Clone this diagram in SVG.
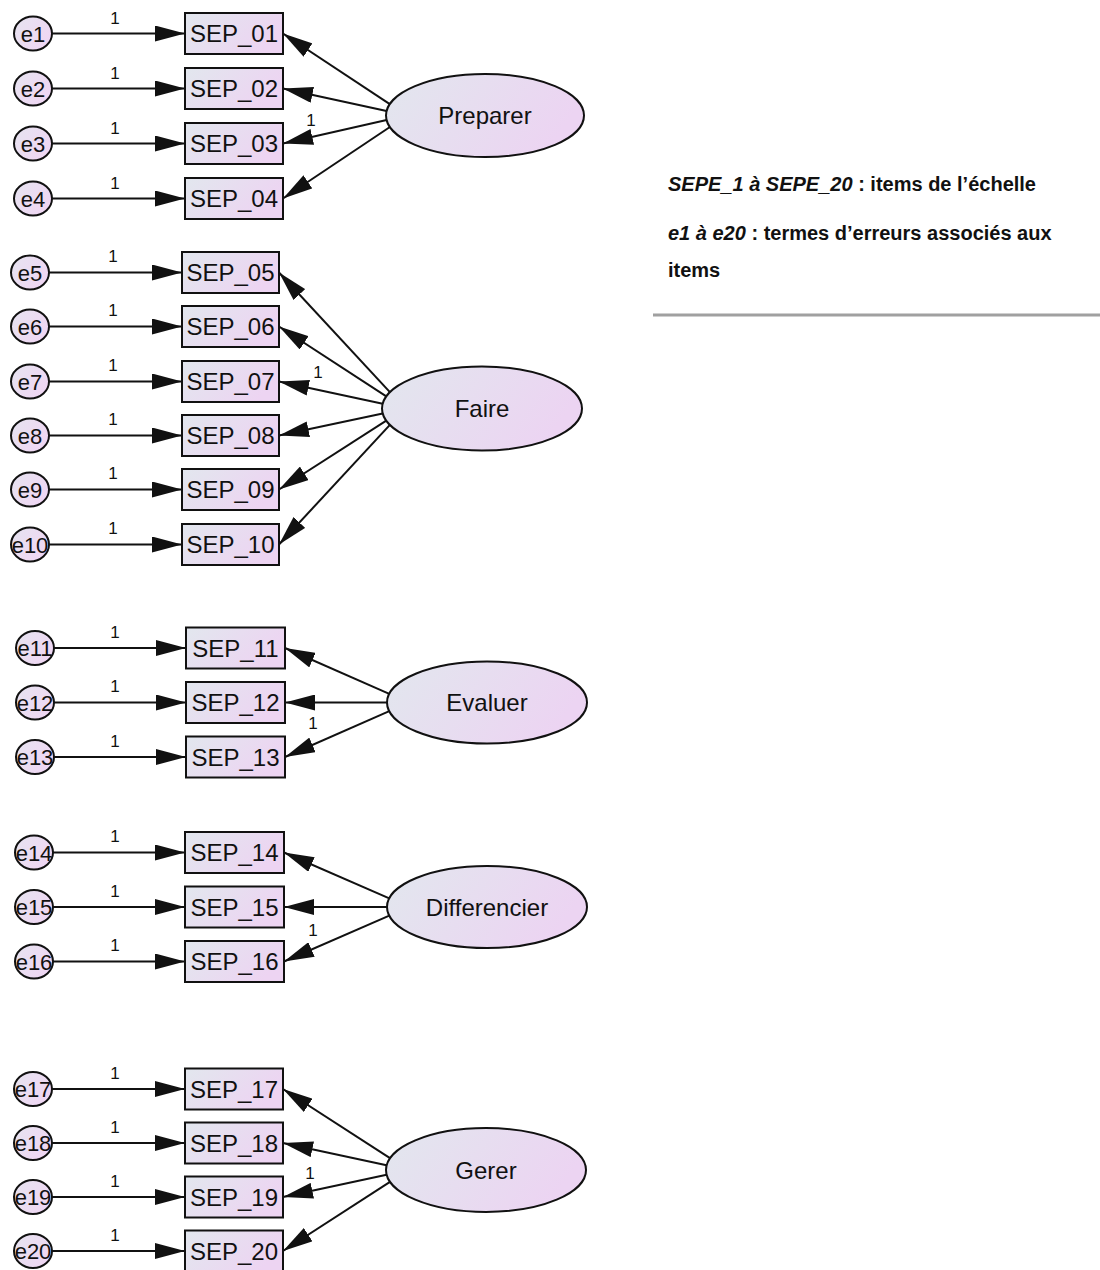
<svg xmlns="http://www.w3.org/2000/svg" width="1100" height="1270" viewBox="0 0 1100 1270">
<style>
.box{fill:url(#gbox);stroke:#111;stroke-width:2}
.err{fill:url(#gerr);stroke:#111;stroke-width:2}
.lat{fill:url(#glat);stroke:#111;stroke-width:2}
.t{font-family:"Liberation Sans",Arial,sans-serif;font-size:24px;fill:#111;text-anchor:middle}
.te{font-family:"Liberation Sans",Arial,sans-serif;font-size:22px;fill:#111;text-anchor:middle}
.one{font-family:"Liberation Sans",Arial,sans-serif;font-size:17px;fill:#111;text-anchor:middle}
.c line{stroke:#111;stroke-width:2;marker-end:url(#ah)}
.leg{font-family:"Liberation Sans",Arial,sans-serif;font-size:20px;font-weight:bold;fill:#111}
</style>
<defs>
<linearGradient id="gbox" x1="0" y1="0" x2="1" y2="0.4"><stop offset="0" stop-color="#e2e7ee"/><stop offset="1" stop-color="#edd4f2"/></linearGradient>
<linearGradient id="gerr" x1="0" y1="0" x2="1" y2="0.6"><stop offset="0" stop-color="#e6e4f0"/><stop offset="1" stop-color="#efd6f3"/></linearGradient>
<linearGradient id="glat" x1="0" y1="0" x2="1" y2="0.3"><stop offset="0" stop-color="#e2e7ee"/><stop offset="1" stop-color="#ecd4f2"/></linearGradient>
<marker id="ah" markerUnits="userSpaceOnUse" markerWidth="30" markerHeight="16" viewBox="0 0 30 16" refX="30" refY="8" orient="auto"><path d="M0,0 L30,8 L0,16 z" fill="#111"/></marker>
</defs>

<g id="connectors" class="c">
<!-- Preparer group -->
<line x1="52" y1="33.5" x2="185" y2="33.5"/>
<line x1="52" y1="88.5" x2="185" y2="88.5"/>
<line x1="52" y1="143.5" x2="185" y2="143.5"/>
<line x1="52" y1="198.5" x2="185" y2="198.5"/>
<line x1="389.8" y1="104.1" x2="283" y2="33.5"/>
<line x1="386.6" y1="111" x2="283" y2="88.5"/>
<line x1="386.6" y1="120.1" x2="283" y2="143.5"/>
<line x1="389.9" y1="127" x2="283" y2="198.5"/>
<!-- Faire group -->
<line x1="49" y1="272.5" x2="182" y2="272.5"/>
<line x1="49" y1="326.5" x2="182" y2="326.5"/>
<line x1="49" y1="381.5" x2="182" y2="381.5"/>
<line x1="49" y1="435.5" x2="182" y2="435.5"/>
<line x1="49" y1="489.5" x2="182" y2="489.5"/>
<line x1="49" y1="544.5" x2="182" y2="544.5"/>
<line x1="389.9" y1="392.1" x2="279" y2="272.5"/>
<line x1="386.3" y1="396.3" x2="279" y2="326.5"/>
<line x1="382.7" y1="403.7" x2="279" y2="381.5"/>
<line x1="382.7" y1="413.4" x2="279" y2="435.5"/>
<line x1="386.3" y1="420.6" x2="279" y2="489.5"/>
<line x1="389.9" y1="424.9" x2="279" y2="544.5"/>
<!-- Evaluer group -->
<line x1="54" y1="648" x2="186" y2="648"/>
<line x1="54" y1="702.5" x2="186" y2="702.5"/>
<line x1="54" y1="757" x2="186" y2="757"/>
<line x1="389.3" y1="693.8" x2="285" y2="648"/>
<line x1="387" y1="702.5" x2="285" y2="702.5"/>
<line x1="389.3" y1="711.2" x2="285" y2="757"/>
<!-- Differencier group -->
<line x1="53" y1="852.5" x2="185" y2="852.5"/>
<line x1="53" y1="907" x2="185" y2="907"/>
<line x1="53" y1="961.5" x2="185" y2="961.5"/>
<line x1="389.3" y1="898.3" x2="284" y2="852.5"/>
<line x1="387" y1="907" x2="284" y2="907"/>
<line x1="389.3" y1="915.7" x2="284" y2="961.5"/>
<!-- Gerer group -->
<line x1="52" y1="1089" x2="185" y2="1089"/>
<line x1="52" y1="1143" x2="185" y2="1143"/>
<line x1="52" y1="1197" x2="185" y2="1197"/>
<line x1="52" y1="1251" x2="185" y2="1251"/>
<line x1="390" y1="1158.2" x2="283" y2="1089"/>
<line x1="386.6" y1="1165.3" x2="283" y2="1143"/>
<line x1="386.6" y1="1174.7" x2="283" y2="1197"/>
<line x1="390" y1="1181.8" x2="283" y2="1251"/>
<g id="connector-labels">
<text class="one" x="115" y="24">1</text>
<text class="one" x="115" y="79">1</text>
<text class="one" x="115" y="134">1</text>
<text class="one" x="115" y="189">1</text>
<text class="one" x="311" y="126">1</text>
<text class="one" x="113" y="262">1</text>
<text class="one" x="113" y="316">1</text>
<text class="one" x="113" y="371">1</text>
<text class="one" x="113" y="425">1</text>
<text class="one" x="113" y="479">1</text>
<text class="one" x="113" y="534">1</text>
<text class="one" x="318" y="378">1</text>
<text class="one" x="115" y="638">1</text>
<text class="one" x="115" y="692">1</text>
<text class="one" x="115" y="747">1</text>
<text class="one" x="313" y="729">1</text>
<text class="one" x="115" y="842">1</text>
<text class="one" x="115" y="897">1</text>
<text class="one" x="115" y="951">1</text>
<text class="one" x="313" y="936">1</text>
<text class="one" x="115" y="1079">1</text>
<text class="one" x="115" y="1133">1</text>
<text class="one" x="115" y="1187">1</text>
<text class="one" x="115" y="1241">1</text>
<text class="one" x="310" y="1179">1</text>
</g>
</g>

<!-- error terms -->
<g id="e1"><ellipse class="err" cx="33" cy="33.5" rx="19" ry="17"/><text class="te" x="33" y="41.5">e1</text></g>
<g id="e2"><ellipse class="err" cx="33" cy="88.5" rx="19" ry="17"/><text class="te" x="33" y="96.5">e2</text></g>
<g id="e3"><ellipse class="err" cx="33" cy="143.5" rx="19" ry="17"/><text class="te" x="33" y="151.5">e3</text></g>
<g id="e4"><ellipse class="err" cx="33" cy="198.5" rx="19" ry="17"/><text class="te" x="33" y="206.5">e4</text></g>
<g id="e5"><ellipse class="err" cx="30" cy="272.5" rx="19" ry="17"/><text class="te" x="30" y="280.5">e5</text></g>
<g id="e6"><ellipse class="err" cx="30" cy="326.5" rx="19" ry="17"/><text class="te" x="30" y="334.5">e6</text></g>
<g id="e7"><ellipse class="err" cx="30" cy="381.5" rx="19" ry="17"/><text class="te" x="30" y="389.5">e7</text></g>
<g id="e8"><ellipse class="err" cx="30" cy="435.5" rx="19" ry="17"/><text class="te" x="30" y="443.5">e8</text></g>
<g id="e9"><ellipse class="err" cx="30" cy="489.5" rx="19" ry="17"/><text class="te" x="30" y="497.5">e9</text></g>
<g id="e10"><ellipse class="err" cx="30" cy="544.5" rx="19" ry="17"/><text class="te" x="30" y="552.5">e10</text></g>
<g id="e11"><ellipse class="err" cx="35" cy="648" rx="19" ry="17"/><text class="te" x="35" y="656">e11</text></g>
<g id="e12"><ellipse class="err" cx="35" cy="702.5" rx="19" ry="17"/><text class="te" x="35" y="710.5">e12</text></g>
<g id="e13"><ellipse class="err" cx="35" cy="757" rx="19" ry="17"/><text class="te" x="35" y="765">e13</text></g>
<g id="e14"><ellipse class="err" cx="34" cy="852.5" rx="19" ry="17"/><text class="te" x="34" y="860.5">e14</text></g>
<g id="e15"><ellipse class="err" cx="34" cy="907" rx="19" ry="17"/><text class="te" x="34" y="915">e15</text></g>
<g id="e16"><ellipse class="err" cx="34" cy="961.5" rx="19" ry="17"/><text class="te" x="34" y="969.5">e16</text></g>
<g id="e17"><ellipse class="err" cx="33" cy="1089" rx="19" ry="17"/><text class="te" x="33" y="1097">e17</text></g>
<g id="e18"><ellipse class="err" cx="33" cy="1143" rx="19" ry="17"/><text class="te" x="33" y="1151">e18</text></g>
<g id="e19"><ellipse class="err" cx="33" cy="1197" rx="19" ry="17"/><text class="te" x="33" y="1205">e19</text></g>
<g id="e20"><ellipse class="err" cx="33" cy="1251" rx="19" ry="17"/><text class="te" x="33" y="1259">e20</text></g>

<!-- observed items -->
<g id="SEP_01"><rect class="box" x="185" y="13" width="98" height="41"/><text class="t" x="234" y="42">SEP_01</text></g>
<g id="SEP_02"><rect class="box" x="185" y="68" width="98" height="41"/><text class="t" x="234" y="97">SEP_02</text></g>
<g id="SEP_03"><rect class="box" x="185" y="123" width="98" height="41"/><text class="t" x="234" y="152">SEP_03</text></g>
<g id="SEP_04"><rect class="box" x="185" y="178" width="98" height="41"/><text class="t" x="234" y="207">SEP_04</text></g>
<g id="SEP_05"><rect class="box" x="182" y="252" width="97" height="41"/><text class="t" x="230.5" y="281">SEP_05</text></g>
<g id="SEP_06"><rect class="box" x="182" y="306" width="97" height="41"/><text class="t" x="230.5" y="335">SEP_06</text></g>
<g id="SEP_07"><rect class="box" x="182" y="361" width="97" height="41"/><text class="t" x="230.5" y="390">SEP_07</text></g>
<g id="SEP_08"><rect class="box" x="182" y="415" width="97" height="41"/><text class="t" x="230.5" y="444">SEP_08</text></g>
<g id="SEP_09"><rect class="box" x="182" y="469" width="97" height="41"/><text class="t" x="230.5" y="498">SEP_09</text></g>
<g id="SEP_10"><rect class="box" x="182" y="524" width="97" height="41"/><text class="t" x="230.5" y="553">SEP_10</text></g>
<g id="SEP_11"><rect class="box" x="186" y="627.5" width="99" height="41"/><text class="t" x="235.5" y="656.5">SEP_11</text></g>
<g id="SEP_12"><rect class="box" x="186" y="682" width="99" height="41"/><text class="t" x="235.5" y="711">SEP_12</text></g>
<g id="SEP_13"><rect class="box" x="186" y="736.5" width="99" height="41"/><text class="t" x="235.5" y="765.5">SEP_13</text></g>
<g id="SEP_14"><rect class="box" x="185" y="832" width="99" height="41"/><text class="t" x="234.5" y="861">SEP_14</text></g>
<g id="SEP_15"><rect class="box" x="185" y="886.5" width="99" height="41"/><text class="t" x="234.5" y="915.5">SEP_15</text></g>
<g id="SEP_16"><rect class="box" x="185" y="941" width="99" height="41"/><text class="t" x="234.5" y="970">SEP_16</text></g>
<g id="SEP_17"><rect class="box" x="185" y="1068.5" width="98" height="41"/><text class="t" x="234" y="1097.5">SEP_17</text></g>
<g id="SEP_18"><rect class="box" x="185" y="1122.5" width="98" height="41"/><text class="t" x="234" y="1151.5">SEP_18</text></g>
<g id="SEP_19"><rect class="box" x="185" y="1176.5" width="98" height="41"/><text class="t" x="234" y="1205.5">SEP_19</text></g>
<g id="SEP_20"><rect class="box" x="185" y="1230.5" width="98" height="41"/><text class="t" x="234" y="1259.5">SEP_20</text></g>

<!-- latent factors -->
<g id="Preparer"><ellipse class="lat" cx="485" cy="115.5" rx="99" ry="41.5"/><text class="t" x="485" y="124">Preparer</text></g>
<g id="Faire"><ellipse class="lat" cx="482" cy="408.5" rx="100" ry="42"/><text class="t" x="482" y="417">Faire</text></g>
<g id="Evaluer"><ellipse class="lat" cx="487" cy="702.5" rx="100" ry="41"/><text class="t" x="487" y="711">Evaluer</text></g>
<g id="Differencier"><ellipse class="lat" cx="487" cy="907" rx="100" ry="41"/><text class="t" x="487" y="915.5">Differencier</text></g>
<g id="Gerer"><ellipse class="lat" cx="486" cy="1170" rx="100" ry="42"/><text class="t" x="486" y="1178.5">Gerer</text></g>

<!-- legend -->
<g id="legend">
<text class="leg" x="668" y="191"><tspan font-style="italic">SEPE_1 à SEPE_20</tspan> : items de l’échelle</text>
<text class="leg" x="668" y="240"><tspan font-style="italic">e1 à e20</tspan> : termes d’erreurs associés aux</text>
<text class="leg" x="668" y="277">items</text>
<line x1="653" y1="315" x2="1100" y2="315" stroke="#a0a0a0" stroke-width="3"/>
</g>
</svg>
